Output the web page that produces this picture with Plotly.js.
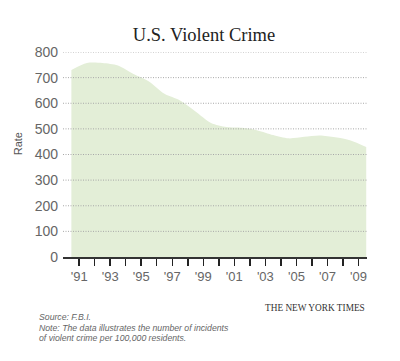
<!DOCTYPE html>
<html>
<head>
<meta charset="utf-8">
<script src="https://cdn.plot.ly/plotly-3.0.1.min.js"></script>
<style>
html,body{margin:0;padding:0;background:#fff;}
#chart{width:400px;height:361px;}
</style>
</head>
<body>
<div id="chart"></div>
<script>
// Data
const years = [1990,1991,1992,1993,1994,1995,1996,1997,1998,1999,2000,2001,2002,2003,2004,2005,2006,2007,2008,2009];
const rates = [730,757,757,747,714,685,637,611,568,523,507,504,494,476,463,469,474,467,455,429];
const tickYears = [1991,1992,1993,1994,1995,1996,1997,1998,1999,2000,2001,2002,2003,2004,2005,2006,2007,2008,2009];
const tickLabels = ["'91","","'93","","'95","","'97","","'99","","'01","","'03","","'05","","'07","","'09"];
const yTicks = [0,100,200,300,400,500,600,700,800];

const trace = {
  x: years, y: rates, type: 'scatter', mode: 'lines',
  line: {shape: 'spline', smoothing: 0.8, width: 0, color: 'rgba(0,0,0,0)'},
  fill: 'tozeroy', fillcolor: '#e3eed7', hoverinfo: 'none'
};

const sans = 'Liberation Sans, Arial, sans-serif';
const serif = 'Liberation Serif, Times New Roman, serif';

// dotted gridlines drawn above the filled area
const gridShapes = yTicks.filter(v => v > 0).map(v => ({
  type: 'line', xref: 'paper', yref: 'y', x0: 0, x1: 1, y0: v, y1: v, layer: 'above',
  line: {color: '#a8a8a8', width: 1, dash: '1px,1.5px'}
}));

const layout = {
  width: 400, height: 361,
  margin: {l: 63, r: 33, t: 52, b: 104},
  paper_bgcolor: '#fff', plot_bgcolor: '#fff',
  showlegend: false,
  title: {text: 'U.S. Violent Crime', x: 0.51, xanchor: 'center', y: 0.905, yanchor: 'middle',
          font: {family: serif, size: 18.5, color: '#222'}},
  xaxis: {
    range: [1989.46, 2009.05],
    tickmode: 'array', tickvals: tickYears.map(v => v - 0.5), ticktext: tickLabels,
    ticks: 'outside', ticklen: 7, tickwidth: 1.5, tickcolor: '#222',
    showgrid: false, zeroline: false,
    showline: true, linecolor: '#333', linewidth: 1.5,
    tickfont: {family: sans, size: 13, color: '#666'},
    layer: 'above traces',
    fixedrange: true
  },
  yaxis: {
    range: [0, 800],
    tickmode: 'array', tickvals: yTicks,
    showgrid: false,
    zeroline: false, showline: false, ticks: '',
    ticklabelstandoff: 4,
    tickfont: {family: sans, size: 14, color: '#666'},
    fixedrange: true
  },
  shapes: gridShapes,
  annotations: [
    {text: 'Rate', xref: 'paper', yref: 'paper', x: -0.148, y: 0.55, xanchor: 'center', yanchor: 'middle', textangle: -90,
     showarrow: false, font: {family: sans, size: 11, color: '#555'}},
    {text: 'THE NEW YORK TIMES', xref: 'paper', yref: 'paper', x: 1.0, y: -0.248, xanchor: 'right', yanchor: 'middle',
     showarrow: false, font: {family: serif, size: 9.3, color: '#333'}},
    {text: 'Source: F.B.I.', xref: 'paper', yref: 'paper', x: -0.085, y: -0.292, xanchor: 'left', yanchor: 'middle',
     showarrow: false, font: {family: sans, size: 8.7, color: '#666', style: 'italic'}},
    {text: 'Note: The data illustrates the number of incidents', xref: 'paper', yref: 'paper', x: -0.085, y: -0.345, xanchor: 'left', yanchor: 'middle',
     showarrow: false, font: {family: sans, size: 8.7, color: '#666', style: 'italic'}},
    {text: 'of violent crime per 100,000 residents.', xref: 'paper', yref: 'paper', x: -0.085, y: -0.397, xanchor: 'left', yanchor: 'middle',
     showarrow: false, font: {family: sans, size: 8.7, color: '#666', style: 'italic'}}
  ]
};

Plotly.newPlot('chart', [trace], layout, {displayModeBar: false, staticPlot: true});
</script>
</body>
</html>
